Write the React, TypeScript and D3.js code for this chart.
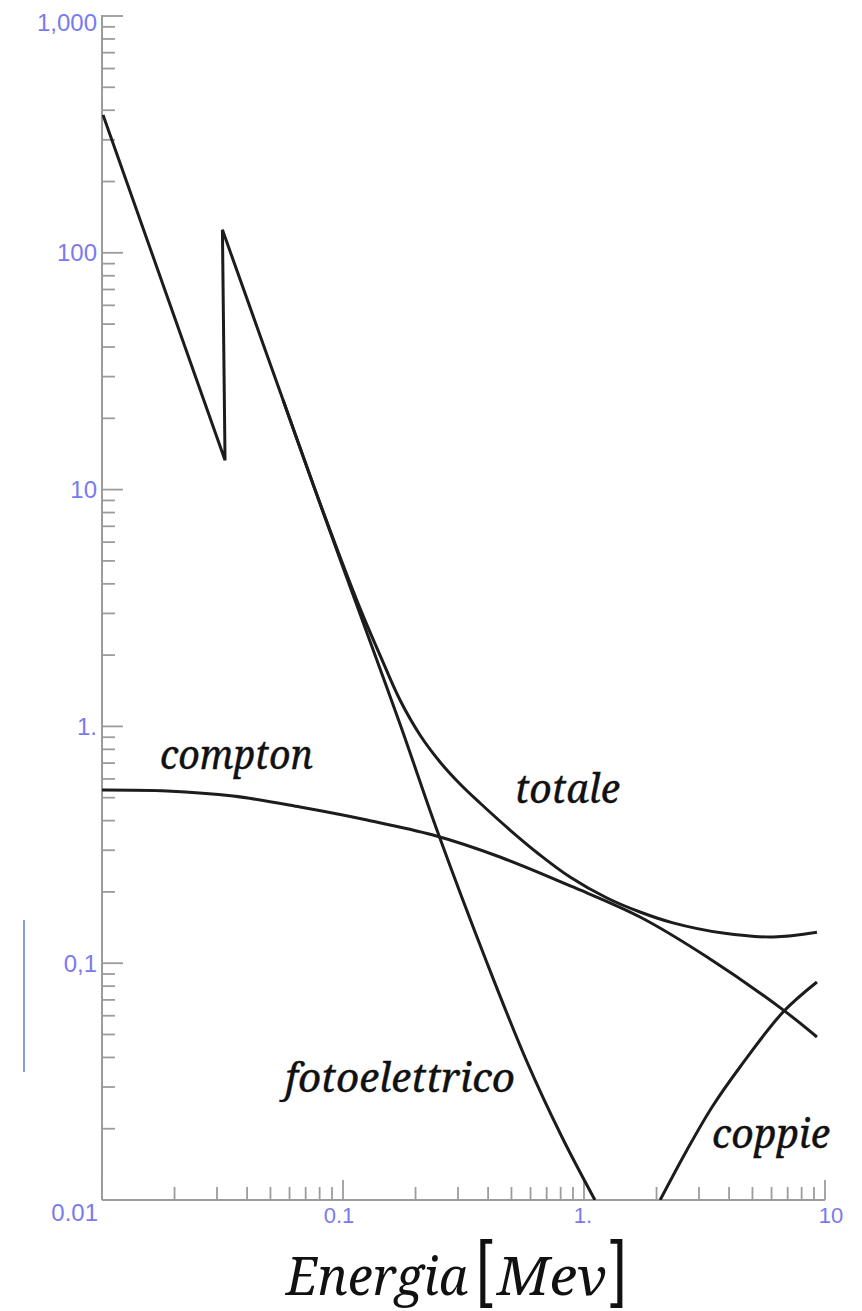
import React from "react";
import * as d3 from "d3";

type Pt = [number, number];

// Energy in MeV, attenuation coefficient (log-log)
const kEdgeSegment: Pt[] = [
  [0.0101, 382],
  [0.0324, 13.3],
  [0.0316, 125],
];

const fotoelettrico: Pt[] = [
  [0.0316, 125],
  [0.0564, 23.9],
  [0.0826, 8.04],
  [0.1177, 2.98],
  [0.1724, 1.024],
  [0.2479, 0.3546],
  [0.396, 0.1002],
  [0.58, 0.0383],
  [0.81, 0.01845],
  [1.11, 0.01],
];

const totale: Pt[] = [
  [0.0564, 23.9],
  [0.0826, 8.1],
  [0.1177, 3.15],
  [0.1424, 2.0],
  [0.1724, 1.292],
  [0.2087, 0.92],
  [0.2527, 0.7075],
  [0.3059, 0.5711],
  [0.3702, 0.4747],
  [0.4932, 0.3651],
  [0.657, 0.2864],
  [0.8748, 0.2312],
  [1.246, 0.1885],
  [1.708, 0.1645],
  [2.34, 0.148],
  [3.77, 0.134],
  [6.09, 0.129],
  [9.26, 0.135],
];

const compton: Pt[] = [
  [0.01, 0.539],
  [0.0186, 0.534],
  [0.035, 0.508],
  [0.0663, 0.4566],
  [0.1258, 0.4025],
  [0.2363, 0.3478],
  [0.448, 0.2809],
  [0.9, 0.2098],
  [1.708, 0.1567],
  [3.24, 0.1062],
  [6.7, 0.0635],
  [9.26, 0.0488],
];

const coppie: Pt[] = [
  [2.07, 0.01],
  [2.675, 0.01626],
  [3.4, 0.0247],
  [4.44, 0.03645],
  [6.7, 0.0622],
  [9.26, 0.0833],
];

const xTickValues = [0.1, 1, 10];
const xTickLabels = ["0.1", "1.", "10"];
const yTickValues = [0.1, 1, 10, 100, 1000];
const yTickLabels = ["0,1", "1.", "10", "100", "1,000"];
const originLabel = "0.01";

const curveLabelTexts = ["compton", "totale", "fotoelettrico", "coppie"];
const curveLabelAt: Pt[] = [
  [0.0174, 0.661],
  [0.517, 0.4747],
  [0.0575, 0.0286],
  [3.4, 0.01658],
];
const curveLabelWidths = [153, 105, 230, 118];

const W = 862;
const H = 1311;
const AXIS = "#9c9c9c";
const LABEL = "#7a7af0";
const INK = "#1c1c1c";
const SERIF = "Noto Serif, DejaVu Serif, serif";
const SANS = "Liberation Sans, Arial, Helvetica, sans-serif";

const isMajor = (v: number) =>
  Math.abs(Math.log10(v) - Math.round(Math.log10(v))) < 1e-6;

export default function App() {
  const x = d3.scaleLog().domain([0.01, 10]).range([102, 825]);
  const y = d3.scaleLog().domain([0.01, 1000]).range([1200, 16]);

  const smooth = d3
    .line<Pt>()
    .x((d) => x(d[0]))
    .y((d) => y(d[1]))
    .curve(d3.curveCatmullRom.alpha(0.5));
  const lin = d3
    .line<Pt>()
    .x((d) => x(d[0]))
    .y((d) => y(d[1]))
    .curve(d3.curveLinear);

  const x0 = x(0.01);
  const y0 = y(0.01);

  return (
    <div style={{ position: "absolute", left: 0, top: 0 }}>
      <svg width={W} height={H} style={{ display: "block", background: "#fff" }}>
        <defs>
          <clipPath id="plot">
            <rect x={x0} y={0} width={x(10) - x0 + 2} height={y0} />
          </clipPath>
        </defs>

        <line x1={24} x2={24} y1={920} y2={1072} stroke="#5d7bc8" strokeWidth={1.5} />

        {/* y axis */}
        <line x1={x0} x2={x0} y1={y(1000) - 1} y2={y0} stroke={AXIS} strokeWidth={2} />
        {y.ticks().map((t, i) => (
          <line
            key={"yt" + i}
            x1={x0}
            x2={x0 + (isMajor(t) ? 21 : 13)}
            y1={y(t)}
            y2={y(t)}
            stroke={AXIS}
            strokeWidth={1.8}
          />
        ))}
        {yTickValues.map((v, i) => (
          <text
            key={"yl" + i}
            x={97}
            y={y(v) + (v === 1000 ? 6 : 0)}
            textAnchor="end"
            dominantBaseline="central"
            fontFamily={SANS}
            fontSize={24}
            fill={LABEL}
          >
            {yTickLabels[i]}
          </text>
        ))}
        <text
          x={98}
          y={y0 + 12}
          textAnchor="end"
          dominantBaseline="central"
          fontFamily={SANS}
          fontSize={24}
          fill={LABEL}
        >
          {originLabel}
        </text>

        {/* x axis */}
        <line x1={x0} x2={x(10)} y1={y0} y2={y0} stroke={AXIS} strokeWidth={2} />
        {x.ticks().map((t, i) => (
          <line
            key={"xt" + i}
            x1={x(t)}
            x2={x(t)}
            y1={y0}
            y2={y0 - (isMajor(t) ? 20 : 13)}
            stroke={AXIS}
            strokeWidth={1.8}
          />
        ))}
        {xTickValues.map((v, i) => (
          <text
            key={"xl" + i}
            x={x(v) + (v === 10 ? 6 : v === 1 ? -1 : -4)}
            y={y0 + 15}
            textAnchor="middle"
            dominantBaseline="central"
            fontFamily={SANS}
            fontSize={22}
            fill={LABEL}
          >
            {xTickLabels[i]}
          </text>
        ))}

        {/* curves */}
        <g clipPath="url(#plot)" fill="none" stroke={INK} strokeWidth={3} strokeLinejoin="miter">
          <path d={lin(kEdgeSegment) || ""} />
          <path d={smooth(fotoelettrico) || ""} />
          <path d={smooth(totale) || ""} />
          <path d={smooth(compton) || ""} />
          <path d={smooth(coppie) || ""} />
        </g>

        {/* curve labels */}
        {curveLabelTexts.map((t, i) => (
          <text
            key={"cl" + i}
            x={x(curveLabelAt[i][0])}
            y={y(curveLabelAt[i][1])}
            fontFamily={SERIF}
            fontStyle="italic"
            fontSize={40}
            textLength={curveLabelWidths[i]}
            lengthAdjust="spacingAndGlyphs"
            fill="#111"
            stroke="#111"
            strokeWidth={0.4}
          >
            {t}
          </text>
        ))}

        {/* x axis title */}
        <text
          x={286}
          y={1295}
          fontFamily={SERIF}
          fontStyle="italic"
          fontSize={52}
          textLength={182}
          lengthAdjust="spacingAndGlyphs"
          fill="#111"
        >
          Energia
        </text>
        <text
          transform="translate(476,1293) scale(1,1.22)"
          fontFamily={SANS}
          fontSize={60}
          fill="#111"
        >
          [
        </text>
        <text
          x={497}
          y={1295}
          fontFamily={SERIF}
          fontStyle="italic"
          fontSize={52}
          textLength={110}
          lengthAdjust="spacingAndGlyphs"
          fill="#111"
        >
          Mev
        </text>
        <text
          transform="translate(610,1293) scale(1,1.22)"
          fontFamily={SANS}
          fontSize={60}
          fill="#111"
        >
          ]
        </text>
      </svg>
    </div>
  );
}
